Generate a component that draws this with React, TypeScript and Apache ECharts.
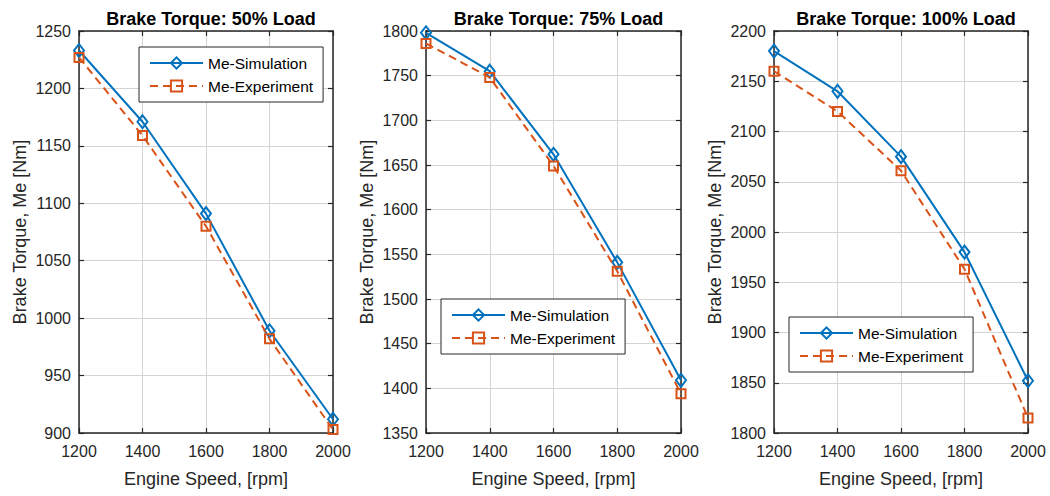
import React, { useEffect, useRef } from "react";
import * as echarts from "echarts";

const speeds = [1200, 1400, 1600, 1800, 2000];
const titles = ["Brake Torque: 50% Load", "Brake Torque: 75% Load", "Brake Torque: 100% Load"];
const sim50 = [1233, 1171, 1091, 989, 912];
const exp50 = [1227, 1159, 1080, 982, 903];
const sim75 = [1798, 1755, 1662, 1541, 1409];
const exp75 = [1786, 1748, 1649, 1531, 1394];
const sim100 = [2180, 2140, 2075, 1980, 1852];
const exp100 = [2160, 2120, 2061, 1963, 1815];
const yMins = [900, 1350, 1800];
const yMaxs = [1250, 1800, 2200];
const yStep = 50;
const xMin = 1200;
const xMax = 2000;
const xStep = 200;

const BLUE = "#0072BD";
const ORANGE = "#D95319";
const DARK = "#262626";
const FONT = "Liberation Sans";
const GRIDC = "#d4d4d4";

export default function App() {
  const ref = useRef<HTMLDivElement>(null);
  useEffect(() => {
    if (!ref.current) return;
    const chart = echarts.init(ref.current, null, { renderer: "svg" });
    const grids = [
      { left: 79, top: 31, width: 254, height: 402 },
      { left: 426, top: 31, width: 255, height: 402 },
      { left: 774, top: 31, width: 254, height: 402 },
    ];
    const sims = [sim50, sim75, sim100];
    const exps = [exp50, exp75, exp100];
    const legendPos = [
      { left: 139, top: 47 },
      { left: 441, top: 299 },
      { left: 789, top: 317 },
    ];
    const fmt = (v: number) => String(v);
    const xAxes: any[] = [];
    const yAxes: any[] = [];
    const series: any[] = [];
    grids.forEach((g, i) => {
      xAxes.push({
        type: "value",
        gridIndex: i,
        min: xMin,
        max: xMax,
        interval: xStep,
        position: "bottom",
        name: "Engine Speed, [rpm]",
        nameLocation: "middle",
        nameGap: 37,
        nameTextStyle: { fontFamily: FONT, fontSize: 18, color: DARK },
        axisLine: { show: true, onZero: false, lineStyle: { color: DARK, width: 1.5 } },
        axisTick: { show: true, inside: true, length: 5, lineStyle: { color: DARK, width: 1.2 } },
        axisLabel: { fontFamily: FONT, fontSize: 16, color: DARK, margin: 10, formatter: fmt },
        splitLine: { show: true, lineStyle: { color: GRIDC, width: 1 } },
      });
      xAxes.push({
        type: "value",
        gridIndex: i,
        min: xMin,
        max: xMax,
        interval: xStep,
        position: "top",
        axisLine: { show: true, onZero: false, lineStyle: { color: DARK, width: 1.5 } },
        axisTick: { show: true, inside: true, length: 5, lineStyle: { color: DARK, width: 1.2 } },
        axisLabel: { show: false },
        splitLine: { show: false },
      });
      yAxes.push({
        type: "value",
        gridIndex: i,
        min: yMins[i],
        max: yMaxs[i],
        interval: yStep,
        position: "left",
        name: "Brake Torque, Me [Nm]",
        nameLocation: "middle",
        nameGap: 50,
        nameTextStyle: { fontFamily: FONT, fontSize: 18, color: DARK },
        axisLine: { show: true, onZero: false, lineStyle: { color: DARK, width: 1.5 } },
        axisTick: { show: true, inside: true, length: 5, lineStyle: { color: DARK, width: 1.2 } },
        axisLabel: { fontFamily: FONT, fontSize: 16, color: DARK, margin: 8, formatter: fmt },
        splitLine: { show: true, lineStyle: { color: GRIDC, width: 1 } },
      });
      yAxes.push({
        type: "value",
        gridIndex: i,
        min: yMins[i],
        max: yMaxs[i],
        interval: yStep,
        position: "right",
        axisLine: { show: true, onZero: false, lineStyle: { color: DARK, width: 1.5 } },
        axisTick: { show: true, inside: true, length: 5, lineStyle: { color: DARK, width: 1.2 } },
        axisLabel: { show: false },
        splitLine: { show: false },
      });
      series.push({
        name: "Me-Simulation",
        type: "line",
        xAxisIndex: i * 2,
        yAxisIndex: i * 2,
        data: speeds.map((s, k) => [s, sims[i][k]]),
        symbol: "diamond",
        symbolSize: [10, 13],
        lineStyle: { color: BLUE, width: 2 },
        itemStyle: { color: "rgba(255,255,255,0)", borderColor: BLUE, borderWidth: 2 },
        z: 3,
      });
      series.push({
        name: "Me-Experiment",
        type: "line",
        xAxisIndex: i * 2,
        yAxisIndex: i * 2,
        data: speeds.map((s, k) => [s, exps[i][k]]),
        symbol: "rect",
        symbolSize: 9,
        lineStyle: { color: ORANGE, width: 2, type: [8, 5] },
        itemStyle: { color: "rgba(255,255,255,0)", borderColor: ORANGE, borderWidth: 2 },
        z: 4,
      });
    });
    const option: any = {
      animation: false,
      backgroundColor: "#ffffff",
      title: grids.map((g, i) => ({
        text: titles[i],
        left: g.left + g.width / 2,
        textAlign: "center",
        top: 5,
        textStyle: { fontFamily: FONT, fontSize: 18, fontWeight: "bold", color: "#000" },
      })),
      grid: grids.map((g) => ({ ...g, show: false })),
      legend: legendPos.map((p) => ({
        ...p,
        orient: "vertical",
        data: ["Me-Simulation", "Me-Experiment"],
        backgroundColor: "#ffffff",
        borderColor: DARK,
        borderWidth: 1,
        borderRadius: 0,
        padding: [8, 10, 8, 10],
        itemGap: 7,
        itemWidth: 53,
        itemHeight: 14,
        selectedMode: false,
        textStyle: { fontFamily: FONT, fontSize: 15.5, color: "#000" },
      })),
      xAxis: xAxes,
      yAxis: yAxes,
      series,
    };
    chart.setOption(option);
    return () => chart.dispose();
  }, []);
  return (
    <div
      ref={ref}
      style={{ position: "fixed", left: 0, top: 0, width: 1050, height: 496, background: "#fff" }}
    />
  );
}
